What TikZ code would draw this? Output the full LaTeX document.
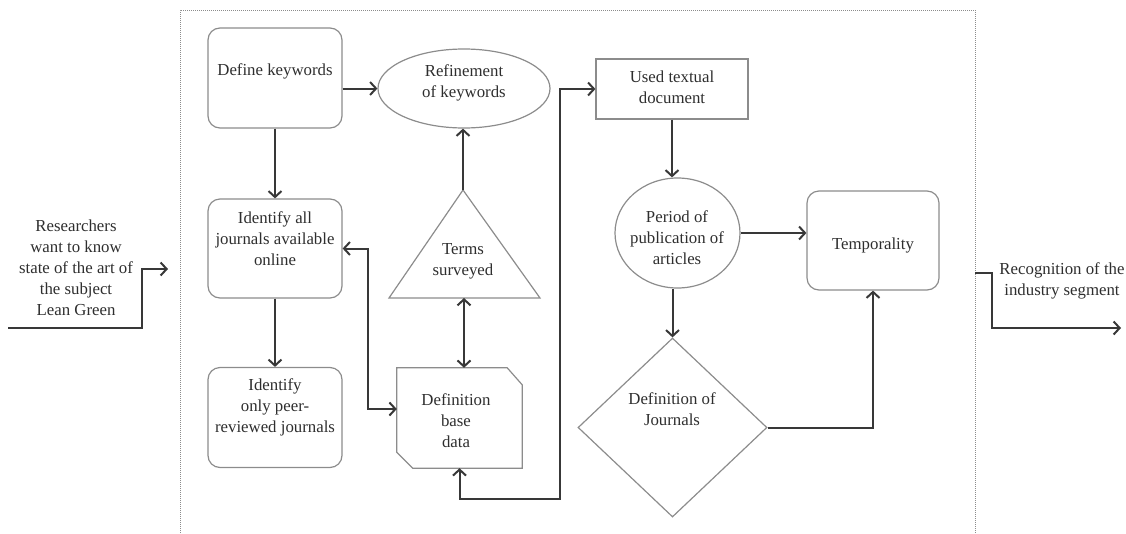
\documentclass[tikz,border=0pt]{standalone}
\usepackage{fontspec}
\setmainfont{Liberation Serif}
\usetikzlibrary{arrows.meta,shapes.geometric}

\begin{document}
\begin{tikzpicture}[x=1pt,y=-1pt,
  font=\fontsize{16.8}{21}\selectfont,
  shapeline/.style={draw=black!45, line width=1.2pt},
  rbox/.style={shapeline, rounded corners=12pt, minimum width=134pt, minimum height=100pt, inner sep=0pt},
  lbl/.style={align=center, inner sep=0pt, text=black!82},
  conn/.style={draw=black!78, line width=2pt, -{Straight Barb[length=6pt,width=13pt]}},
  bothconn/.style={conn, {Straight Barb[length=6pt,width=13pt]}-{Straight Barb[length=6pt,width=13pt]}},
  frameline/.style={draw=black!45, line width=1pt, densely dotted},
]
\useasboundingbox (0,0) rectangle (1126,533);

% process frame (open at the bottom)
\draw[frameline] (180,533) -- (180,10) -- (975,10) -- (975,533);

% left column
\node[rbox] (dk) at (275,78) {};
\node[lbl] (dkt) at (275,71) {Define keywords};
\node[rbox, minimum height=99pt] (ia) at (275,248.5) {};
\node[lbl] (iat) at (275,239) {Identify all\\journals available\\online};
\node[rbox] (io) at (275,417.5) {};
\node[lbl] (iot) at (275,407) {Identify\\only peer-\\reviewed journals};

% middle column
\node[ellipse, shapeline, minimum width=172pt, minimum height=79pt, inner sep=0pt] (rk) at (464,88.5) {};
\node[lbl] (rkt) at (464,82.5) {Refinement\\of keywords};

\coordinate (tapex) at (463,190);
\coordinate (tbase) at (464,298);
\draw[shapeline] (tapex) -- (540,298) -- (389,298) -- cycle;
\node[lbl] (tst) at (463,261.5) {Terms\\surveyed};

\node[minimum width=125pt, minimum height=100pt, inner sep=0pt] (db) at (459.5,418) {};
\draw[shapeline] (db.north west) -- ([xshift=-15pt]db.north east) -- ([yshift=-17pt]db.north east)
  -- (db.south east) -- ([xshift=16pt]db.south west) -- ([yshift=16pt]db.south west) -- cycle;
\node[lbl] (dbt) at (456,420.5) {Definition\\base\\data};

% right column
\node[rectangle, shapeline, minimum width=152pt, minimum height=60pt, inner sep=0pt] (ut) at (672,89) {};
\node[lbl] (utt) at (672,87) {Used textual\\document};
\node[ellipse, shapeline, minimum width=125pt, minimum height=110pt, inner sep=0pt] (pp) at (677.5,233) {};
\node[lbl] (ppt) at (677,238) {Period of\\publication of\\articles};
\node[rbox, minimum width=132pt, minimum height=99pt] (tp) at (873,240.5) {};
\node[lbl] (tpt) at (873,245) {Temporality};
\node[diamond, shapeline, minimum width=189pt, minimum height=179pt, inner sep=0pt] (dj) at (672.5,427.5) {};
\node[lbl] (djt) at (672,409.5) {Definition of\\Journals};

% input and output
\node[lbl] (int) at (76,267.5) {Researchers\\want to know\\state of the art of\\the subject\\Lean Green};
\coordinate (inA) at (8,328);
\coordinate (inB) at (168,269);
\node[lbl] (outt) at (1062,280.5) {Recognition of the\\industry segment};
\coordinate (outA) at (975,273);
\coordinate (outB) at (1121,328);

% connectors
\draw[conn] (inA) -- ++(134,0) |- (inB);
\draw[conn] (outA) -- ++(17,0) |- (outB);
\draw[conn] (dk.east |- rk.west) -- (rk.west);
\draw[conn] (dk.south) -- (ia.north);
\draw[conn] (ia.south) -- (io.north);
\draw[conn] (tapex) -- (tapex |- rk.south);
\draw[bothconn] (tbase) -- (tbase |- db.north);
\draw[bothconn] (ia.east) -- ++(25,0) |- ([yshift=9pt]db.west);
\draw[bothconn] (db.south) -- ++(0,31) -- ++(100,0) |- (ut.west);
\draw[conn] (ut.south) -- (ut.south |- pp.north);
\draw[conn] (pp.east) -- (pp.east -| tp.west);
\draw[conn] (dj.north |- pp.south) -- (dj.north);
\draw[conn] (dj.east) -| (tp.south);
\end{tikzpicture}
\end{document}
